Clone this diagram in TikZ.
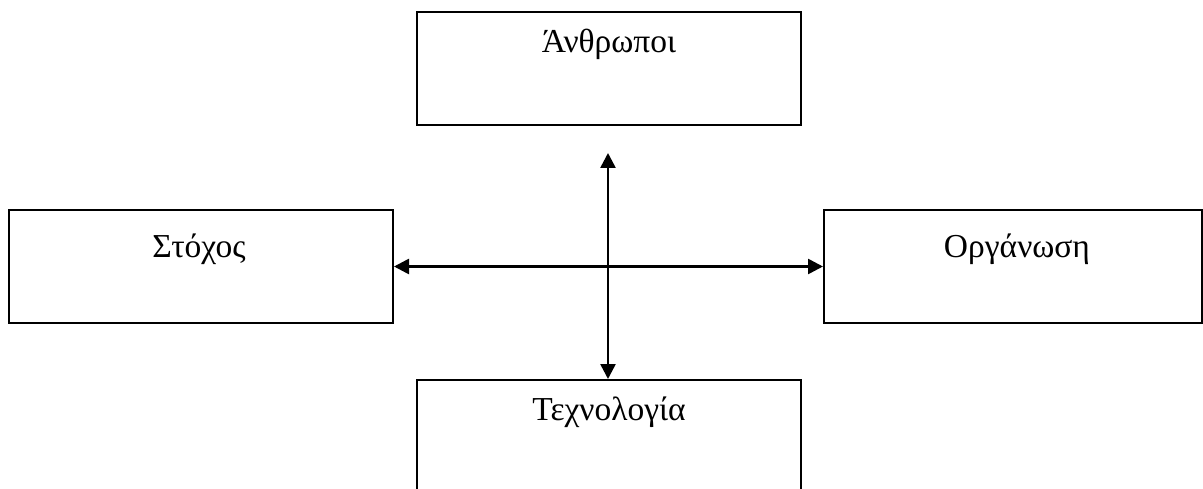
\documentclass[tikz,border=0pt]{standalone}
\usepackage{fontspec}
\setmainfont{Liberation Serif}
\usetikzlibrary{arrows.meta}
\begin{document}
\begin{tikzpicture}[x=1pt,y=-1pt,
  box/.style={draw=black,line width=2pt,minimum width=384pt,minimum height=113pt,inner sep=0pt,anchor=north west},
  lbl/.style={font=\fontsize{33.5}{38}\selectfont,anchor=base,inner sep=0pt},
  link/.style={line width=2.6pt,{Triangle[length=15pt,width=15pt]}-{Triangle[length=15pt,width=15pt]}}]
  \useasboundingbox (0,0) rectangle (1203,489);
  \clip (0,0) rectangle (1203,489);
  % the four boxes
  \node[box] (people) at (416,11) {};
  \node[box] (goal) at (8,209) {};
  \node[box,minimum width=378pt] (org) at (823,209) {};
  \node[box] (tech) at (416,379) {};
  % their titles
  \node[lbl] at ([yshift=-42pt]people.north) {Άνθρωποι};
  \node[lbl] at ([xshift=-2pt,yshift=-48.5pt]goal.north) {Στόχος};
  \node[lbl] at ([xshift=4pt,yshift=-48.5pt]org.north) {Οργάνωση};
  \node[lbl] at ([yshift=-41pt]tech.north) {Τεχνολογία};
  % the two double-headed arrows
  \coordinate (up) at (608,153);
  \draw[link] (up) -- (up |- tech.north);
  \draw[link] (goal.east) -- (org.west);
\end{tikzpicture}
\end{document}
